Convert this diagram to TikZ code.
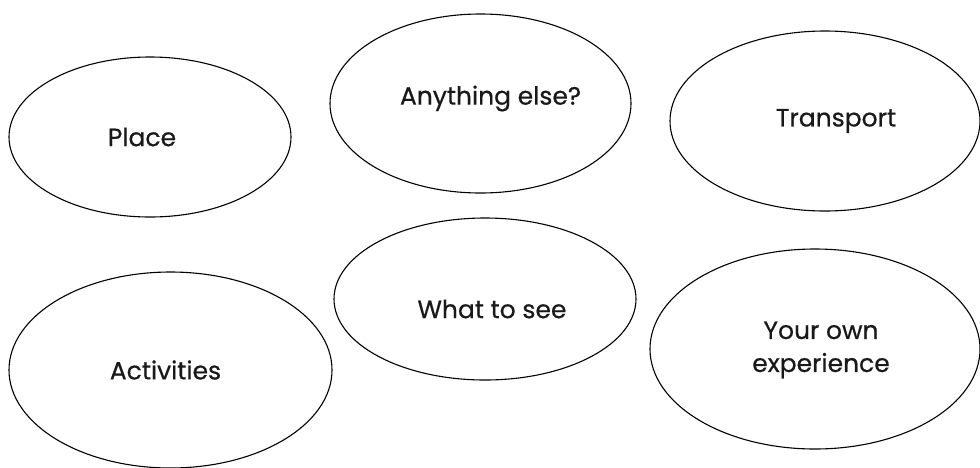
\documentclass[tikz,border=0pt]{standalone}
\usepackage{fontspec}
\setmainfont{Poppins}[FakeBold=0.6]
\usetikzlibrary{shapes.geometric,calc}

\begin{document}
\begin{tikzpicture}[
  x=1pt, y=1pt,
  font=\fontsize{25}{33}\selectfont,
  bubble/.style={draw=black, ellipse, line width=1.1pt, inner sep=0pt},
  topic/.style={text=black!90, align=center, inner sep=0pt}
]
\useasboundingbox (0,0) rectangle (980,-467);
\clip (0,0) rectangle (980,-467);

\node[bubble, minimum width=282, minimum height=160] (place) at (150,-137) {};
\node[bubble, minimum width=301, minimum height=179] (else) at (480.5,-103.5) {};
\node[bubble, minimum width=310, minimum height=180] (transport) at (825,-121) {};
\node[bubble, minimum width=323, minimum height=196] (activities) at (170.5,-370) {};
\node[bubble, minimum width=302, minimum height=162] (see) at (485,-299) {};
\node[bubble, minimum width=330, minimum height=200] (own) at (815,-349) {};

\node[topic] (place-txt) at ($(place.center)+(-8,0)$) {Place};
\node[topic] (else-txt) at ($(else.center)+(10,5)$) {Anything else?};
\node[topic] (transport-txt) at ($(transport.center)+(11,0)$) {Transport};
\node[topic] (activities-txt) at ($(activities.center)+(-5,0)$) {Activities};
\node[topic] (see-txt) at ($(see.center)+(7,-10)$) {What to see};
\node[topic] (own-txt) at ($(own.center)+(6,-1)$) {Your own\\experience};
\end{tikzpicture}
\end{document}
